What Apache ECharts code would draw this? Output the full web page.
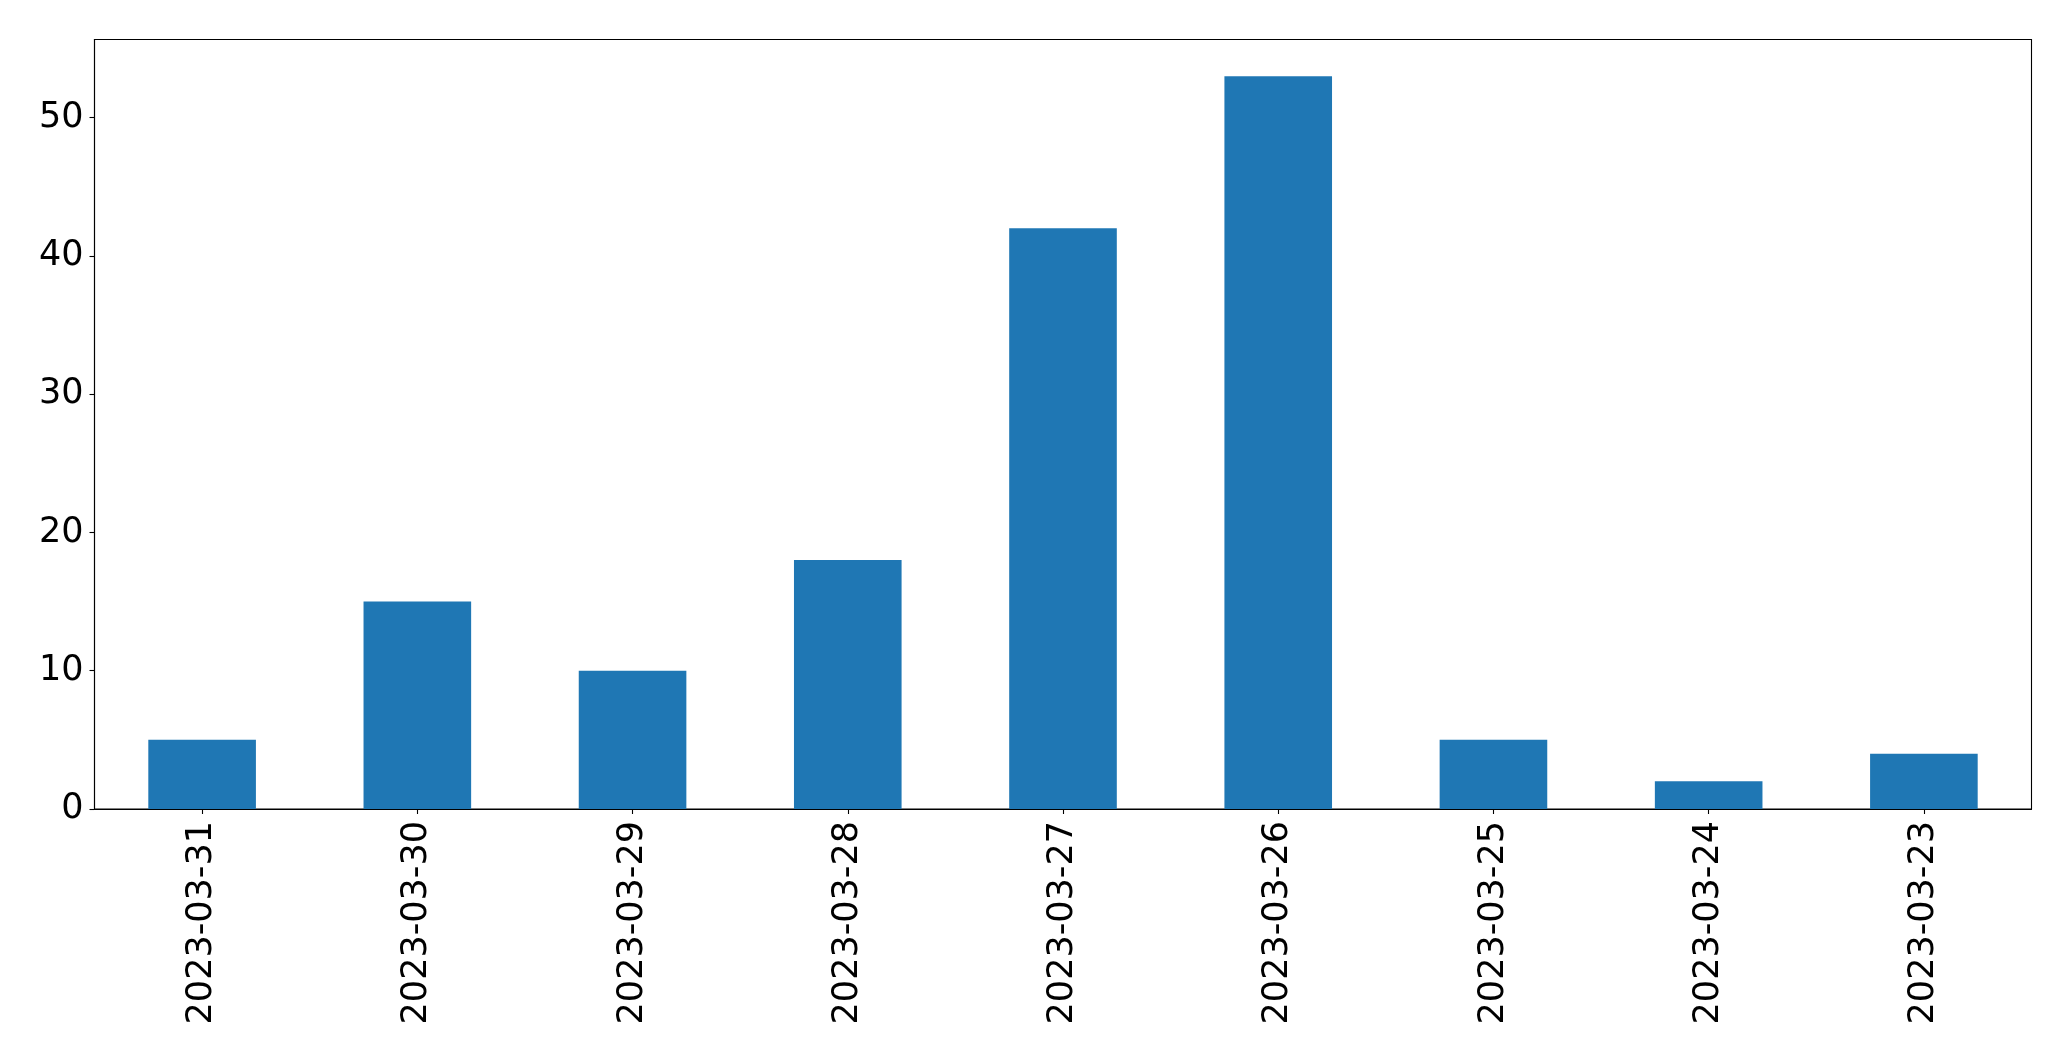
<!DOCTYPE html>
<html>
<head>
<meta charset="utf-8">
<script src="https://cdn.jsdelivr.net/npm/echarts@6/dist/echarts.min.js"></script>
<style>html,body{margin:0;padding:0;background:#fff}#c{width:2071px;height:1061px}</style>
</head>
<body>
<div id="c"></div>
<script>
const categories = ['2023-03-31','2023-03-30','2023-03-29','2023-03-28','2023-03-27','2023-03-26','2023-03-25','2023-03-24','2023-03-23'];
const values = [5, 15, 10, 18, 42, 53, 5, 2, 4];
const yTicks = [0, 10, 20, 30, 40, 50];
const yMax = 55.65;

const chart = echarts.init(document.getElementById('c'), null, {renderer: 'canvas'});
const font = 'DejaVu Sans';
chart.setOption({
  animation: false,
  backgroundColor: '#fff',
  grid: {left: 94.5, right: 39.5, top: 39.5, bottom: 252, show: true, borderColor: '#000', borderWidth: 1.1, backgroundColor: 'transparent'},
  xAxis: {
    type: 'category',
    data: categories,
    boundaryGap: true,
    axisLine: {show: true, lineStyle: {color: '#000', width: 1.1}},
    axisTick: {show: true, alignWithLabel: true, length: 5, lineStyle: {color: '#000', width: 1.1}},
    axisLabel: {rotate: 90, margin: 12, color: '#000', fontSize: 35, fontFamily: font, interval: 0},
    splitLine: {show: false}
  },
  yAxis: {
    type: 'value',
    min: 0,
    max: yMax,
    interval: 10,
    axisLine: {show: true, lineStyle: {color: '#000', width: 1.1}},
    axisTick: {show: true, length: 5, lineStyle: {color: '#000', width: 1.1}, customValues: yTicks},
    axisLabel: {margin: 11, color: '#000', fontSize: 35, fontFamily: font, customValues: yTicks},
    splitLine: {show: false}
  },
  series: [{
    type: 'bar',
    data: values,
    barWidth: '50%',
    itemStyle: {color: '#1f77b4'}
  }]
});
</script>
</body>
</html>
